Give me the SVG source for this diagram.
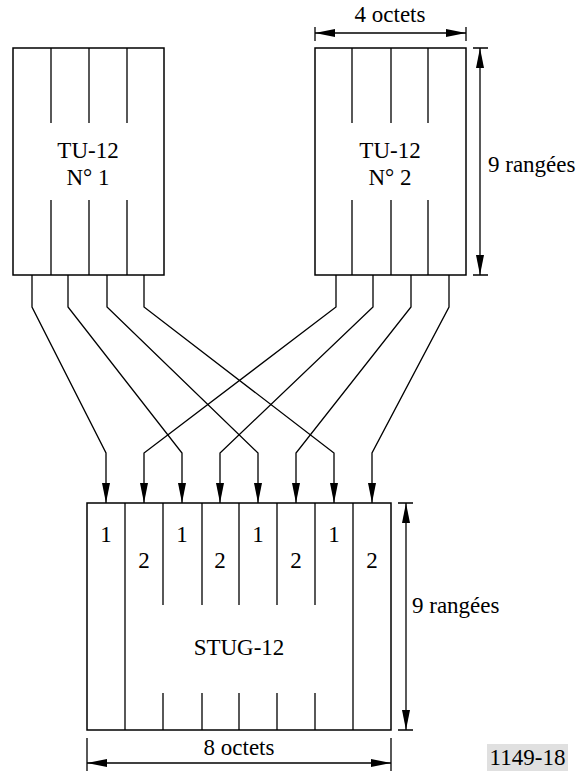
<svg xmlns="http://www.w3.org/2000/svg" width="581" height="771" viewBox="0 0 581 771">
<style>
.ln{stroke:#000;stroke-width:1.3;fill:none}
.box{stroke:#000;stroke-width:1.5;fill:#fff}
.t{font-family:"Liberation Serif","Times New Roman",serif;font-size:23px;fill:#000}
.c{text-anchor:middle}
</style>
<defs>
<marker id="ah" viewBox="0 0 20 8" refX="20" refY="4" markerWidth="20" markerHeight="8" markerUnits="userSpaceOnUse" orient="auto-start-reverse">
<path d="M0,0 L20,4 L0,8 z" fill="#000"/>
</marker>
</defs>
<rect width="581" height="771" fill="#fff"/>

<g id="tu12-1">
<rect class="box" x="13" y="48" width="151" height="227"/>
<path class="ln" d="M51,48V123M89,48V123M127,48V123M51,200V275M89,200V275M127,200V275"/>
<text class="t c" x="88" y="158">TU-12</text>
<text class="t c" x="88" y="185">N° 1</text>
</g>

<g id="tu12-2">
<rect class="box" x="315" y="48" width="151" height="227"/>
<path class="ln" d="M352,48V123M391,48V123M428,48V123M352,200V275M391,200V275M428,200V275"/>
<text class="t c" x="390" y="158">TU-12</text>
<text class="t c" x="390" y="185">N° 2</text>
</g>

<g id="stug12">
<rect class="box" x="87" y="503" width="304" height="227"/>
<path class="ln" d="M125,503V730M353,503V730M163,503V605M202,503V605M239,503V605M277,503V605M315,503V605M163,693V730M202,693V730M239,693V730M277,693V730M315,693V730"/>
<text class="t c" x="106" y="542">1</text>
<text class="t c" x="182" y="542">1</text>
<text class="t c" x="258" y="542">1</text>
<text class="t c" x="334" y="542">1</text>
<text class="t c" x="144" y="568">2</text>
<text class="t c" x="220" y="568">2</text>
<text class="t c" x="296" y="568">2</text>
<text class="t c" x="372" y="568">2</text>
<text class="t c" x="239" y="655">STUG-12</text>
</g>

<g id="connectors">
<path class="ln" marker-end="url(#ah)" d="M32,275V307L106,453V503"/>
<path class="ln" marker-end="url(#ah)" d="M68,275V307L182,453V503"/>
<path class="ln" marker-end="url(#ah)" d="M107,275V307L258,453V503"/>
<path class="ln" marker-end="url(#ah)" d="M144,275V307L334,453V503"/>
<path class="ln" marker-end="url(#ah)" d="M336,275V307L144,453V503"/>
<path class="ln" marker-end="url(#ah)" d="M373,275V307L220,453V503"/>
<path class="ln" marker-end="url(#ah)" d="M411,275V307L296,453V503"/>
<path class="ln" marker-end="url(#ah)" d="M449,275V307L372,453V503"/>
</g>

<g id="dimensions">
<path class="ln" d="M315,27V41M466,27V41M473,48H488M473,275H488M398,503H413M398,730H413M87,738V771M391,738V771"/>
<path class="ln" marker-start="url(#ah)" marker-end="url(#ah)" d="M315,33H466"/>
<path class="ln" marker-start="url(#ah)" marker-end="url(#ah)" d="M480,48V275"/>
<path class="ln" marker-start="url(#ah)" marker-end="url(#ah)" d="M406,503V730"/>
<path class="ln" marker-start="url(#ah)" marker-end="url(#ah)" d="M87,763H391"/>
<text class="t c" x="390" y="22">4 octets</text>
<text class="t" x="488" y="172">9 rangées</text>
<text class="t" x="412" y="613">9 rangées</text>
<text class="t c" x="239" y="755">8 octets</text>
</g>

<g id="label">
<rect x="487" y="744" width="81" height="27" fill="#e0e0e0"/>
<text class="t c" x="527.5" y="765">1149-18</text>
</g>
</svg>
